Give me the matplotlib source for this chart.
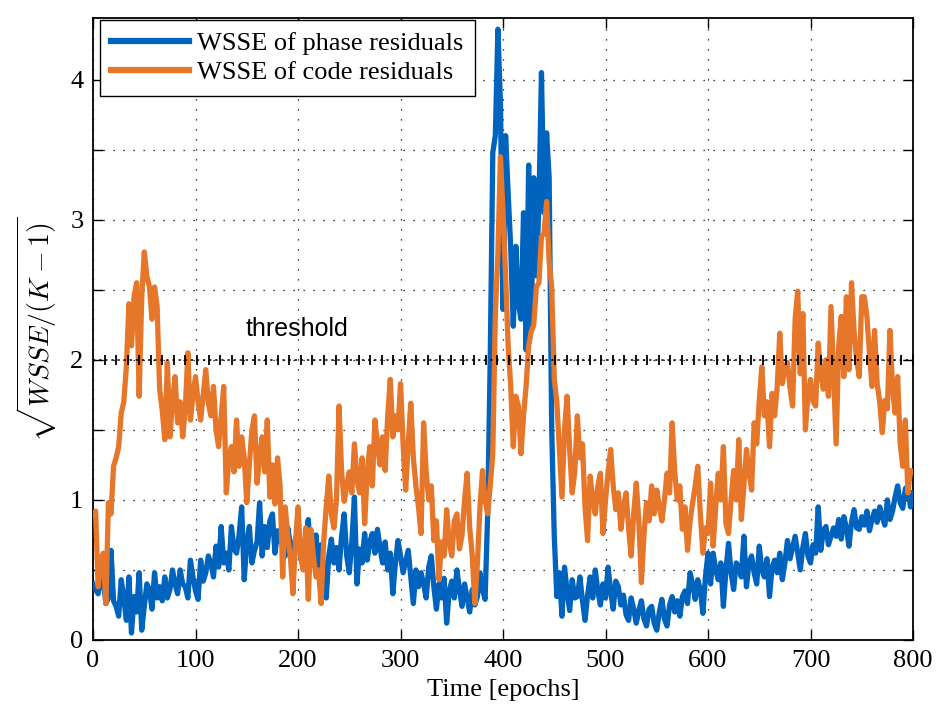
import numpy as np
import matplotlib
matplotlib.use("Agg")
import matplotlib.pyplot as plt

# ---------------- data (sampled every 2.5 epochs) ----------------
epochs = np.arange(0, 800.1, 2.5)

phase_wsse = [
    # 0-47.5
    0.40, 0.36, 0.33, 0.45, 0.43, 0.26, 0.30, 0.64, 0.28, 0.24,
    0.17, 0.43, 0.30, 0.14, 0.45, 0.05, 0.31, 0.20, 0.48, 0.07,
    # 50-97.5
    0.24, 0.40, 0.36, 0.22, 0.48, 0.30, 0.38, 0.28, 0.45, 0.30,
    0.36, 0.50, 0.40, 0.33, 0.50, 0.40, 0.38, 0.30, 0.57, 0.45,
    # 100-147.5
    0.35, 0.29, 0.57, 0.42, 0.48, 0.60, 0.55, 0.45, 0.67, 0.52,
    0.81, 0.55, 0.62, 0.50, 0.81, 0.65, 0.62, 0.75, 0.95, 0.43,
    # 150-197.5
    0.70, 0.81, 0.55, 0.64, 0.70, 0.98, 0.60, 0.81, 0.66, 0.85,
    0.90, 0.62, 0.78, 0.70, 0.85, 0.60, 0.80, 0.68, 0.55, 0.72,
    # 200-247.5
    0.76, 0.60, 0.52, 0.70, 0.86, 0.55, 0.62, 0.75, 0.48, 0.68,
    0.52, 0.30, 0.60, 0.72, 0.55, 0.66, 0.50, 0.74, 0.90, 0.60,
    # 250-297.5
    0.48, 0.70, 1.02, 0.40, 0.65, 0.55, 0.76, 0.57, 0.70, 0.76,
    0.62, 0.79, 0.66, 0.55, 0.70, 0.50, 0.62, 0.33, 0.55, 0.71,
    # 300-347.5
    0.60, 0.48, 0.56, 0.64, 0.45, 0.26, 0.50, 0.38, 0.48, 0.40,
    0.30, 0.52, 0.60, 0.38, 0.22, 0.40, 0.30, 0.44, 0.12, 0.35,
    # 350-397.5
    0.42, 0.30, 0.50, 0.36, 0.24, 0.40, 0.30, 0.20, 0.36, 0.25,
    0.31, 0.48, 0.36, 0.29, 0.90, 2.00, 3.48, 3.60, 4.36, 3.83,
    # 400-447.5
    2.36, 3.60, 3.19, 2.80, 2.24, 2.81, 2.40, 2.29, 3.05, 2.07,
    3.39, 2.21, 3.30, 2.60, 3.10, 4.05, 3.05, 3.62, 3.30, 1.50,
    # 450-497.5
    0.74, 0.31, 0.48, 0.17, 0.52, 0.35, 0.21, 0.43, 0.30, 0.31,
    0.45, 0.28, 0.14, 0.32, 0.45, 0.30, 0.50, 0.35, 0.25, 0.40,
    # 500-547.5
    0.30, 0.52, 0.35, 0.22, 0.42, 0.38, 0.25, 0.32, 0.18, 0.14,
    0.30, 0.22, 0.12, 0.21, 0.28, 0.15, 0.10, 0.22, 0.24, 0.12,
    # 550-597.5
    0.07, 0.20, 0.29, 0.15, 0.10, 0.25, 0.31, 0.20, 0.28, 0.17,
    0.31, 0.35, 0.26, 0.48, 0.40, 0.29, 0.43, 0.36, 0.19, 0.45,
    # 600-647.5
    0.62, 0.40, 0.62, 0.50, 0.43, 0.55, 0.24, 0.50, 0.69, 0.48,
    0.36, 0.55, 0.52, 0.45, 0.74, 0.38, 0.55, 0.60, 0.48, 0.40,
    # 650-697.5
    0.67, 0.50, 0.45, 0.58, 0.31, 0.52, 0.57, 0.48, 0.62, 0.43,
    0.55, 0.71, 0.58, 0.66, 0.74, 0.62, 0.50, 0.66, 0.76, 0.60,
    # 700-747.5
    0.55, 0.68, 0.62, 0.95, 0.64, 0.78, 0.81, 0.68, 0.74, 0.80,
    0.74, 0.86, 0.72, 0.88, 0.80, 0.67, 0.84, 0.93, 0.80, 0.79,
    # 750-797.5
    0.88, 0.82, 0.92, 0.78, 0.86, 0.92, 0.84, 0.95, 0.88, 0.82,
    1.00, 0.86, 0.92, 1.02, 1.10, 0.98, 0.94, 1.08, 1.10, 0.95,
    # 800
    1.05,
]

code_wsse = [
    # 0-47.5
    0.90, 0.92, 0.38, 0.55, 0.62, 0.26, 0.98, 0.90, 1.24, 1.30,
    1.38, 1.62, 1.70, 1.95, 2.40, 2.10, 2.45, 2.55, 1.74, 2.45,
    # 50-97.5
    2.77, 2.60, 2.52, 2.29, 2.52, 2.38, 1.79, 1.64, 1.43, 1.98,
    1.45, 1.70, 1.88, 1.55, 1.70, 1.45, 1.65, 2.05, 1.57, 1.75,
    # 100-147.5
    1.88, 1.70, 1.57, 1.75, 1.93, 1.69, 1.60, 1.81, 1.50, 1.38,
    1.60, 1.81, 1.05, 1.30, 1.38, 1.20, 1.57, 1.24, 1.45, 1.30,
    # 150-197.5
    0.98, 1.25, 1.50, 1.60, 1.12, 1.30, 1.45, 1.20, 1.57, 1.02,
    1.25, 0.97, 1.30, 1.10, 0.45, 0.95, 0.74, 0.60, 0.33, 0.70,
    # 200-247.5
    0.95, 0.60, 0.50, 0.80, 0.29, 0.79, 0.60, 0.45, 0.50, 0.26,
    0.70, 0.95, 1.17, 0.90, 0.80, 1.00, 1.67, 1.20, 0.99, 1.10,
    # 250-297.5
    1.20, 1.05, 1.40, 1.15, 1.05, 1.30, 0.83, 1.20, 1.38, 1.10,
    1.57, 1.40, 1.25, 1.45, 1.21, 1.60, 1.86, 1.45, 1.60, 1.50,
    # 300-347.5
    1.83, 1.40, 1.07, 1.40, 1.69, 1.30, 1.10, 0.95, 0.76, 1.55,
    1.20, 1.00, 1.10, 0.71, 0.85, 0.43, 0.70, 0.60, 0.93, 0.70,
    # 350-397.5
    0.60, 0.85, 0.90, 0.65, 0.75, 1.00, 1.19, 0.80, 0.60, 0.26,
    0.55, 0.95, 1.21, 1.00, 0.90, 1.10, 1.33, 2.33, 2.76, 3.45,
    # 400-447.5
    3.05, 2.60, 2.10, 1.81, 1.38, 1.74, 1.67, 1.33, 1.60, 1.81,
    2.10, 2.20, 2.25, 2.52, 2.55, 2.88, 2.90, 3.13, 2.70, 2.52,
    # 450-497.5
    1.86, 1.70, 1.36, 1.02, 1.50, 1.74, 1.36, 1.05, 1.20, 1.60,
    1.30, 1.40, 0.95, 0.71, 1.17, 1.00, 0.90, 1.10, 1.19, 0.76,
    # 500-547.5
    1.00, 1.20, 1.36, 1.10, 0.93, 1.05, 0.79, 0.95, 1.05, 0.80,
    0.60, 0.90, 1.12, 0.85, 0.41, 0.75, 0.98, 0.85, 1.10, 0.90,
    # 550-597.5
    1.07, 0.95, 0.85, 1.00, 1.19, 1.05, 1.55, 1.20, 1.00, 1.10,
    0.79, 0.95, 0.64, 0.85, 0.98, 1.10, 1.24, 0.90, 0.62, 0.80,
    # 600-647.5
    0.76, 1.12, 0.67, 0.95, 1.19, 1.00, 1.38, 0.83, 0.76, 1.00,
    1.21, 1.00, 1.43, 0.86, 1.10, 1.36, 1.20, 1.07, 1.55, 1.40,
    # 650-697.5
    1.71, 1.95, 1.60, 1.70, 1.38, 1.76, 1.60, 1.81, 2.19, 1.83,
    1.95, 1.98, 1.80, 1.67, 2.29, 2.49, 1.90, 2.33, 1.50, 1.75,
    # 700-747.5
    1.86, 1.70, 1.67, 2.12, 1.90, 1.79, 2.00, 1.74, 2.38, 1.90,
    1.40, 2.10, 2.31, 1.88, 2.45, 1.93, 2.55, 2.20, 2.00, 1.88,
    # 750-797.5
    2.45, 2.45, 2.31, 2.05, 1.81, 2.21, 1.83, 1.70, 1.48, 1.71,
    1.65, 2.21, 1.80, 1.62, 1.88, 1.40, 1.24, 1.57, 1.05, 1.21,
    # 800
    1.20,
]

threshold_value = 2.0
series_labels = ["WSSE of phase residuals", "WSSE of code residuals"]
x_ticks = [0, 100, 200, 300, 400, 500, 600, 700, 800]
y_ticks = [0, 0.5, 1, 1.5, 2, 2.5, 3, 3.5, 4]
y_tick_labels = ["0", "", "1", "", "2", "", "3", "", "4"]

# ---------------- style ----------------
plt.rcParams['font.family'] = ['Liberation Serif', 'DejaVu Serif']
plt.rcParams['mathtext.fontset'] = 'cm'

BLUE = '#0063BE'
ORANGE = '#E5762A'

fig = plt.figure(figsize=(9.37, 7.06), dpi=100)
ax = fig.add_axes([0.0993, 0.0935, 0.8751, 0.881])

lw = 3.8
ax.plot(epochs, phase_wsse, color=BLUE, lw=lw, label=series_labels[0],
        solid_joinstyle='round', zorder=3)
ax.plot(epochs, code_wsse, color=ORANGE, lw=lw, label=series_labels[1],
        solid_joinstyle='round', zorder=4)

# threshold line
thr_x = np.linspace(0, 800, 72)
ax.plot(thr_x, np.full_like(thr_x, threshold_value), color='black',
        lw=1.1, linestyle=(0, (1.5, 2.5)), marker='|', markersize=7,
        markeredgewidth=1.3, zorder=5)
ax.text(199, 2.22, "threshold", family=['Liberation Sans', 'DejaVu Sans'],
        fontsize=18, ha='center', va='center', zorder=6)

ax.set_xlim(0, 800)
ax.set_ylim(0, 4.44)
ax.set_xticks(x_ticks)
ax.set_yticks(y_ticks)
ax.set_yticklabels(y_tick_labels)
ax.tick_params(direction='in', length=7, width=1, top=True, right=True,
               labelsize=19, pad=7)
ax.grid(True, color='black', linestyle=(0, (1, 7)), linewidth=0.9)
for s in ax.spines.values():
    s.set_linewidth(1.3)
    s.set_color('black')

ax.set_xlabel("Time [epochs]", fontsize=19, labelpad=5)
ax.set_ylabel(r"$\sqrt{WSSE/(K-1)}$", fontsize=20, labelpad=8)

leg = ax.legend(loc='upper left', bbox_to_anchor=(0.008, 0.997),
                borderaxespad=0, fontsize=19, fancybox=False,
                edgecolor='black', framealpha=1, handlelength=2.95,
                handletextpad=0.3, borderpad=0.45, labelspacing=0.2)
leg.get_frame().set_linewidth(1.0)
for line in leg.get_lines():
    line.set_linewidth(4.5)

fig.savefig("out.png", dpi=100)
